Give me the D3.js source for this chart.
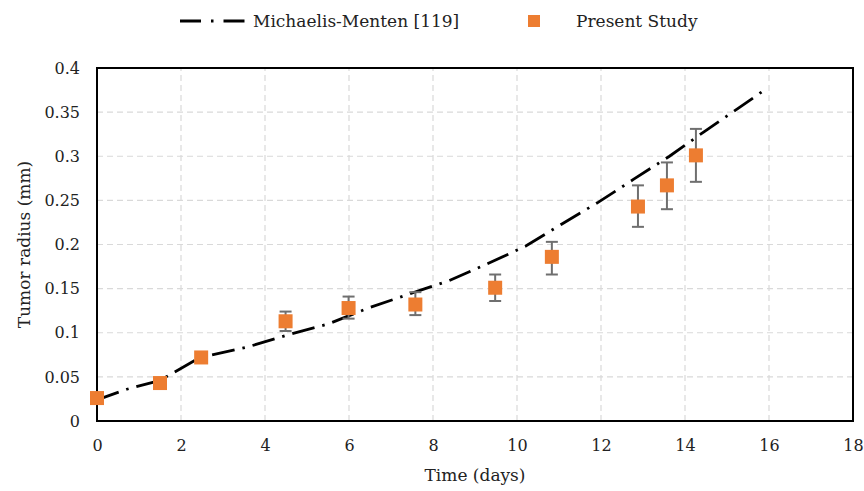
<!DOCTYPE html>
<html>
<head>
<meta charset="utf-8">
<script src="https://cdnjs.cloudflare.com/ajax/libs/d3/7.8.5/d3.min.js"></script>
<style>
  body { margin: 0; background: #fff; }
  text { font-family: "DejaVu Serif", serif; fill: #222; }
</style>
</head>
<body>
<script>
// Michaelis-Menten model curve
var mmTime = [0, 0.71, 1.5, 2.45, 3.56, 4.5, 5.51, 6.46, 7.69, 8.38, 9.29, 10.2, 11.06, 11.94, 12.78, 13.63, 14.46, 15.29, 15.92];
var mmRadius = [0.024, 0.036, 0.046, 0.072, 0.0835, 0.097, 0.110, 0.128, 0.148, 0.159, 0.178, 0.198, 0.223, 0.248, 0.274, 0.300, 0.328, 0.355, 0.376];

// present study with error bars
var studyTime = [0, 1.5, 2.48, 4.49, 5.99, 7.58, 9.48, 10.83, 12.88, 13.57, 14.26];
var studyRadius = [0.026, 0.043, 0.072, 0.113, 0.128, 0.132, 0.151, 0.186, 0.243, 0.267, 0.301];
var studyLow = [0.024, 0.041, 0.069, 0.102, 0.116, 0.120, 0.136, 0.166, 0.220, 0.240, 0.271];
var studyHigh = [0.028, 0.045, 0.075, 0.124, 0.141, 0.146, 0.166, 0.203, 0.267, 0.293, 0.331];

var xTicks = [0, 2, 4, 6, 8, 10, 12, 14, 16, 18];
var yTicks = [0, 0.05, 0.1, 0.15, 0.2, 0.25, 0.3, 0.35, 0.4];

var width = 864, height = 491;
var margin = { left: 97, right: 11, top: 68, bottom: 70 };
var fontSize = "16px";

var svg = d3.select("body").append("svg")
    .attr("width", width)
    .attr("height", height);

var x = d3.scaleLinear().domain([0, 18]).range([margin.left, width - margin.right]);
var y = d3.scaleLinear().domain([0, 0.4]).range([height - margin.bottom, margin.top]);

// grid
svg.append("g").selectAll("line.vg")
  .data(xTicks.slice(1, -1))
  .enter().append("line")
    .attr("x1", d => x(d)).attr("x2", d => x(d))
    .attr("y1", y(0)).attr("y2", y(0.4))
    .attr("stroke", "#d9d9d9").attr("stroke-width", 1.2)
    .attr("stroke-dasharray", "6,4");

svg.append("g").selectAll("line.hg")
  .data(yTicks.slice(1, -1))
  .enter().append("line")
    .attr("x1", x(0)).attr("x2", x(18))
    .attr("y1", d => y(d)).attr("y2", d => y(d))
    .attr("stroke", "#d9d9d9").attr("stroke-width", 1.2)
    .attr("stroke-dasharray", "6,4");

// axes labels
var xAxis = svg.append("g")
    .attr("transform", "translate(0," + y(0) + ")")
    .call(d3.axisBottom(x).tickValues(xTicks).tickSize(0).tickPadding(19).tickFormat(d3.format("d")));
var yAxis = svg.append("g")
    .attr("transform", "translate(" + x(0) + ",0)")
    .call(d3.axisLeft(y).tickValues(yTicks).tickSize(0).tickPadding(17).tickFormat(d => d === 0 ? "0" : String(+d.toFixed(2))));
[xAxis, yAxis].forEach(function(a) {
  a.select(".domain").remove();
  a.selectAll("text").style("font-size", fontSize).attr("fill", "#222")
    .style("font-family", "'DejaVu Serif', serif");
});

// frame
svg.append("rect")
    .attr("x", x(0)).attr("y", y(0.4))
    .attr("width", x(18) - x(0)).attr("height", y(0) - y(0.4))
    .attr("fill", "none").attr("stroke", "#000").attr("stroke-width", 2);

// model line
var line = d3.line()
    .x(function(d, i) { return x(mmTime[i]); })
    .y(function(d) { return y(d); });

svg.append("path")
    .datum(mmRadius)
    .attr("d", line)
    .attr("fill", "none")
    .attr("stroke", "#000")
    .attr("stroke-width", 2.8)
    .attr("stroke-dasharray", "23,8,2.5,8");

// error bars
var eb = svg.append("g").selectAll("g.eb")
  .data(studyTime)
  .enter().append("g")
    .attr("stroke", "#6f6f6f").attr("stroke-width", 2);
eb.append("line")
    .attr("x1", d => x(d)).attr("x2", d => x(d))
    .attr("y1", (d, i) => y(studyLow[i])).attr("y2", (d, i) => y(studyHigh[i]));
eb.append("line")
    .attr("x1", d => x(d) - 6).attr("x2", d => x(d) + 6)
    .attr("y1", (d, i) => y(studyLow[i])).attr("y2", (d, i) => y(studyLow[i]));
eb.append("line")
    .attr("x1", d => x(d) - 6).attr("x2", d => x(d) + 6)
    .attr("y1", (d, i) => y(studyHigh[i])).attr("y2", (d, i) => y(studyHigh[i]));

// markers
svg.append("g").selectAll("rect")
  .data(studyTime)
  .enter().append("rect")
    .attr("x", d => x(d) - 7)
    .attr("y", (d, i) => y(studyRadius[i]) - 7)
    .attr("width", 14).attr("height", 14)
    .attr("fill", "#ed7d31");

// axis titles
svg.append("text")
    .attr("x", (x(0) + x(18)) / 2).attr("y", 481)
    .attr("text-anchor", "middle")
    .style("font-size", "17px")
    .text("Time (days)");

svg.append("text")
    .attr("transform", "translate(30," + (y(0.2)) + ") rotate(-90)")
    .attr("text-anchor", "middle")
    .style("font-size", "17px")
    .text("Tumor radius (mm)");

// legend
var lg = svg.append("g");
lg.append("line")
    .attr("x1", 180).attr("x2", 245).attr("y1", 21).attr("y2", 21)
    .attr("stroke", "#000").attr("stroke-width", 2.8)
    .attr("stroke-dasharray", "21,10,2.5,10");
lg.append("text")
    .attr("x", 253).attr("y", 27)
    .style("font-size", "17px")
    .text("Michaelis-Menten [119]");
lg.append("rect")
    .attr("x", 528).attr("y", 15).attr("width", 12).attr("height", 12)
    .attr("fill", "#ed7d31");
lg.append("text")
    .attr("x", 576).attr("y", 27)
    .style("font-size", "17px")
    .text("Present Study");
</script>
</body>
</html>
